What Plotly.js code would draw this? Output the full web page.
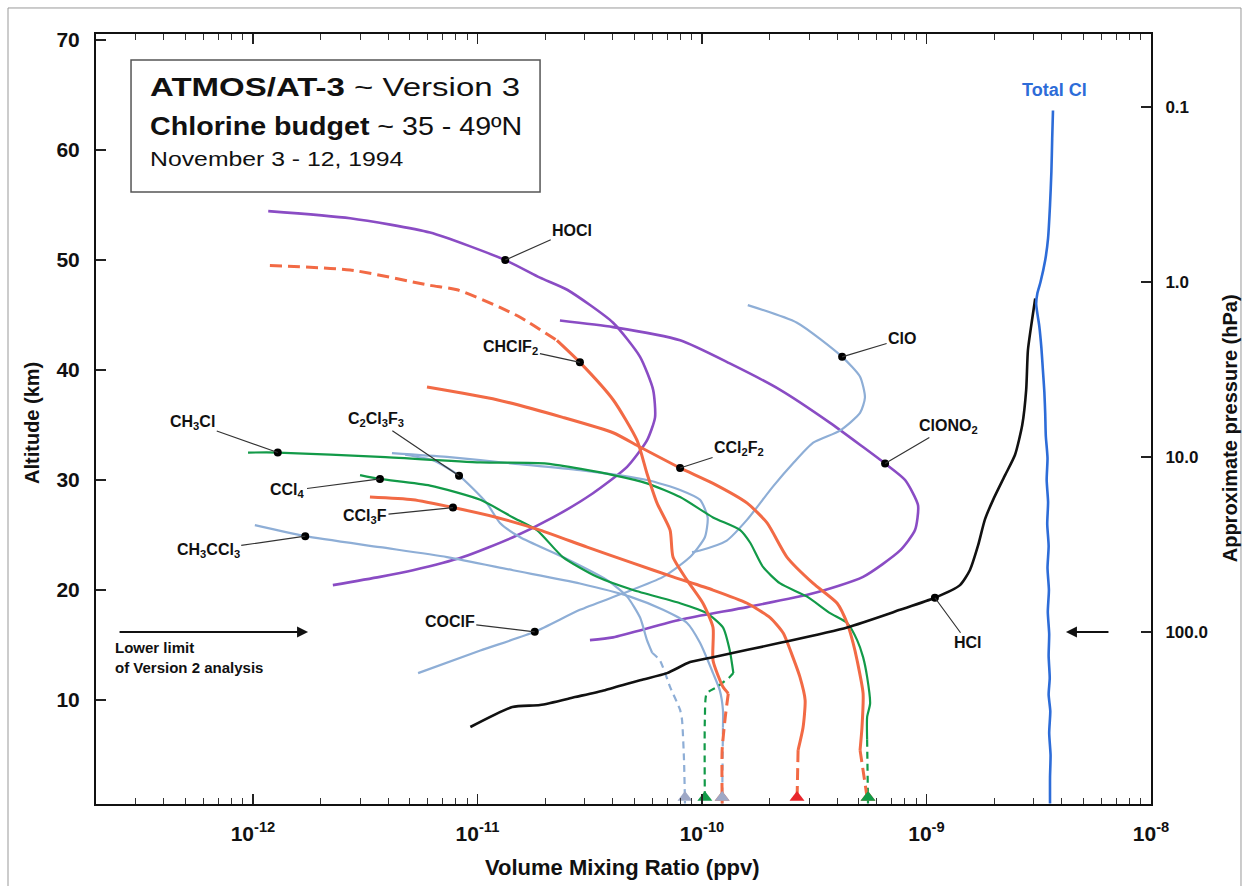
<!DOCTYPE html>
<html>
<head>
<meta charset="utf-8">
<script src="https://cdn.plot.ly/plotly-3.0.1.min.js"></script>
<style>html,body{margin:0;padding:0;background:#fff;}#chart{width:1248px;height:886px;}</style>
</head>
<body>
<div id="chart"></div>
<script>
// ---------------- DATA (VMR in ppv, altitude in km) ----------------
const totalClAlt = [0.6,3,5,7,9,10.5,12,14,16,18,20,22,24,26,28,30,32,34,36,38,40,42,44,46,47,48,50,52,55,58,61,63.6];
const totalClVmr = [3.55e-9,3.55e-9,3.57e-9,3.52e-9,3.56e-9,3.50e-9,3.54e-9,3.50e-9,3.52e-9,3.47e-9,3.51e-9,3.46e-9,3.50e-9,3.45e-9,3.48e-9,3.43e-9,3.46e-9,3.40e-9,3.38e-9,3.35e-9,3.30e-9,3.25e-9,3.18e-9,3.08e-9,3.12e-9,3.22e-9,3.38e-9,3.48e-9,3.55e-9,3.60e-9,3.63e-9,3.66e-9];

const hclAlt = [7.55,9.36,9.55,10.27,10.9,11.8,12.45,13.45,13.9,15.2,16.6,18.2,19.3,20.45,21.8,24.1,26.4,28.2,30.45,32.3,35,38.2,41.8,44.5,46.5];
const hclVmr = [9.3e-12,1.43e-11,1.90e-11,2.72e-11,3.70e-11,5.30e-11,6.99e-11,8.85e-11,1.12e-10,2.23e-10,4.43e-10,7.63e-10,1.09e-9,1.41e-9,1.56e-9,1.70e-9,1.82e-9,1.98e-9,2.24e-9,2.48e-9,2.67e-9,2.78e-9,2.83e-9,2.95e-9,3.05e-9];

const hoclAlt = [54.45,53.8,52.5,50,48.4,47.3,44.3,41.2,38.2,35.7,33.6,31.2,28.8,26.6,24.8,23,21.8,21.2,20.45];
const hoclVmr = [1.17e-12,2.71e-12,6.15e-12,1.33e-11,1.90e-11,2.51e-11,4.02e-11,5.30e-11,6.06e-11,6.18e-11,5.69e-11,4.64e-11,3.27e-11,2.17e-11,1.44e-11,8.62e-12,5.16e-12,3.68e-12,2.27e-12];

const clono2Alt = [44.5,43.9,42.7,40.6,38.2,35.2,33,31.5,30,27.7,25.45,23.6,21.2,19.7,18.45,17.3,15.7,15.45];
const clono2Vmr = [2.33e-11,4.02e-11,7.99e-11,1.33e-10,2.23e-10,3.72e-10,5.22e-10,6.54e-10,8.03e-10,9.17e-10,8.89e-10,7.63e-10,5.22e-10,3.13e-10,1.59e-10,7.99e-11,4.02e-11,3.17e-11];

const cloAlt = [45.9,44.3,41.2,39.4,37.5,36.1,34.5,33.4,31.5,29.4,26.4,24.5,23.6,23.45];
const cloVmr = [1.60e-10,2.65e-10,4.21e-10,5.06e-10,5.32e-10,5.06e-10,4.12e-10,3.13e-10,2.54e-10,2.07e-10,1.59e-10,1.29e-10,9.80e-11,9.03e-11];

const coclfAlt = [12.45,14.5,16.2,18.2,19.7,21.2,23,24.8,26.6,28.2,29.1,30,30.9,31.5,32.1,32.45];
const coclfVmr = [5.44e-12,1.03e-11,1.80e-11,2.86e-11,4.45e-11,6.71e-11,8.85e-11,1.03e-10,1.06e-10,9.80e-11,7.99e-11,5.69e-11,2.86e-11,1.44e-11,7.32e-12,4.16e-12];

const c2cl3f3Alt = [32.3,31.8,30.4,27.9,26.1,24.8,23,20.9,19.4,17.5,15.45,14.3];
const c2cl3f3Vmr = [4.76e-12,6.34e-12,8.28e-12,1.10e-11,1.26e-11,1.55e-11,2.40e-11,3.78e-11,4.64e-11,5.30e-11,5.69e-11,6.0e-11];
const c2cl3f3DashAlt = [14.3,13.6,11.2,9.1,8.2,4.5,0.6];
const c2cl3f3DashVmr = [6.0e-11,6.5e-11,7.21e-11,7.99e-11,8.15e-11,8.32e-11,8.4e-11];

const ch3ccl3Alt = [25.9,24.9,23.9,23,21.8,20.6,19.4,18.2,17,15.2,12.45,10.9,9.1,7.5];
const ch3ccl3Vmr = [1.02e-12,1.71e-12,3.68e-12,7.32e-12,1.44e-11,2.86e-11,4.78e-11,6.71e-11,8.58e-11,9.80e-11,1.12e-10,1.20e-10,1.24e-10,1.24e-10];
const ch3ccl3DashAlt = [7.5,0.6];
const ch3ccl3DashVmr = [1.24e-10,1.23e-10];

const chclf2TopAlt = [49.5,49.1,47.7,47.3,45.7,44.8,42.7];
const chclf2TopVmr = [1.19e-12,2.71e-12,6.15e-12,8.11e-12,1.26e-11,1.55e-11,2.26e-11];
const chclf2Alt = [42.7,40.7,37.3,33.6,30.6,27.9,25.45,23,20.9,18.8,16.6,13.6,11.2,10.6];
const chclf2Vmr = [2.26e-11,2.86e-11,4.02e-11,5.14e-11,5.69e-11,6.31e-11,7.21e-11,7.43e-11,8.58e-11,1.01e-10,1.12e-10,1.12e-10,1.24e-10,1.31e-10];
const chclf2DashAlt = [10.6,8.45,5.45,0.6];
const chclf2DashVmr = [1.31e-10,1.27e-10,1.23e-10,1.23e-10];

const ccl3fAlt = [28.45,28.2,27.5,26.6,25.45,23.9,22.45,21.2,20,18.8,17.5,16.1,13.9,12.1,10,7.5,5.45];
const ccl3fVmr = [3.32e-12,5.16e-12,7.78e-12,1.22e-11,1.90e-11,3.08e-11,4.93e-11,7.43e-11,1.12e-10,1.59e-10,2.01e-10,2.30e-10,2.54e-10,2.73e-10,2.88e-10,2.82e-10,2.68e-10];
const ccl3fDashAlt = [5.45,0.6];
const ccl3fDashVmr = [2.68e-10,2.65e-10];

const ccl2f2Alt = [38.45,37.3,35.7,34.3,33,31.1,29.7,27.9,26.1,23,20.6,18.8,17,15.2,13.6,10.6,7.5,5.45];
const ccl2f2Vmr = [5.96e-12,1.22e-11,2.40e-11,4.02e-11,5.30e-11,7.99e-11,1.12e-10,1.59e-10,1.95e-10,2.39e-10,3.13e-10,4.00e-10,4.43e-10,4.71e-10,4.91e-10,5.22e-10,5.16e-10,5.06e-10];
const ccl2f2DashAlt = [5.45,0.6];
const ccl2f2DashVmr = [5.06e-10,5.49e-10];

const ch3clAlt = [32.5,32.5,32.1,31.6,31.5,30.45,29.7,28.45,26.6,25.45,24.3,22.1,20.6,19.4,17.9,17,15.45,13.9,12.1,9.7,8.45,6.4];
const ch3clVmr = [9.51e-13,1.29e-12,3.68e-12,1.03e-11,2.04e-11,4.02e-11,5.69e-11,7.99e-11,1.12e-10,1.48e-10,1.64e-10,1.87e-10,2.23e-10,2.94e-10,3.72e-10,4.43e-10,4.91e-10,5.22e-10,5.44e-10,5.61e-10,5.44e-10,5.44e-10];
const ch3clDashAlt = [6.4,0.6];
const ch3clDashVmr = [5.44e-10,5.49e-10];

const ccl4Alt = [30.45,30.1,29.5,28.2,26.6,25.45,23,21.2,20,18.8,17.9,16.6,14.5,12.45];
const ccl4Vmr = [3.0e-12,3.68e-12,6.15e-12,1.03e-11,1.44e-11,1.84e-11,2.40e-11,3.41e-11,4.93e-11,7.99e-11,1.05e-10,1.24e-10,1.33e-10,1.38e-10];
const ccl4DashAlt = [12.45,12.1,11.2,10.6,8.2,0.6];
const ccl4DashVmr = [1.38e-10,1.33e-10,1.17e-10,1.05e-10,1.03e-10,1.03e-10];

// ground-level (tropospheric) markers
const groundVmr = [8.4e-11,1.03e-10,1.23e-10,1.23e-10,2.65e-10,5.49e-10,5.49e-10];
const groundAlt = [1.15,1.15,1.15,1.15,1.15,1.15,1.15];
const groundColor = ['#9ea8c6','#129a48','#f26a45','#9ea8c6','#e8262b','#f26a45','#129a48'];

// labelled points
const labelNames = ['HOCl','CHClF<sub>2</sub>','ClO','ClONO<sub>2</sub>','CCl<sub>2</sub>F<sub>2</sub>','CH<sub>3</sub>Cl','C<sub>2</sub>Cl<sub>3</sub>F<sub>3</sub>','CCl<sub>4</sub>','CCl<sub>3</sub>F','CH<sub>3</sub>CCl<sub>3</sub>','COClF','HCl'];
const labelVmr = [1.33e-11,2.86e-11,4.21e-10,6.54e-10,7.99e-11,1.29e-12,8.28e-12,3.68e-12,7.78e-12,1.71e-12,1.80e-11,1.09e-9];
const labelAlt = [50,40.7,41.2,31.5,31.1,32.5,30.4,30.1,27.5,24.9,16.2,19.3];
const labelDx = [67,-69,60,63,59,-85,-83,-92,-88,-97,-85,33];
const labelDy = [-30,-15,-18,-37,-19,-30,-56,12,9,14,-10,45];

// axis ticks
const pressTicks = [0.1,1,10,100];
const pressText = ['0.1','1.0','10.0','100.0'];
const vmrTicks = [1e-12,1e-11,1e-10,1e-9,1e-8];
const minorDecades = [1e-13,1e-12,1e-11,1e-10,1e-9];
const minorDigits = [2,3,4,5,6,7,8,9];
const altTicks = [10,20,30,40,50,60,70];

// ---------------- STYLE ----------------
const PURPLE='#8a4cc4', ORANGE='#f26a45', GREEN='#129a48', GRAY='#8eaed6', BLUE='#2d6cd8';
function line(x,y,color,width,dash){
  return {x:x,y:y,type:'scatter',mode:'lines',hoverinfo:'skip',
    line:{color:color,width:width,dash:dash||'solid',shape:'spline',smoothing:0.6}};
}
const traces = [
  line(hoclVmr,hoclAlt,PURPLE,2.6),
  line(clono2Vmr,clono2Alt,PURPLE,2.6),
  line(cloVmr,cloAlt,GRAY,2.2),
  line(coclfVmr,coclfAlt,GRAY,2.2),
  line(c2cl3f3Vmr,c2cl3f3Alt,GRAY,2.2),
  line(c2cl3f3DashVmr,c2cl3f3DashAlt,GRAY,2.2,'7px,5px'),
  line(ch3ccl3Vmr,ch3ccl3Alt,GRAY,2.2),
  line(ch3ccl3DashVmr,ch3ccl3DashAlt,GRAY,2.2,'7px,5px'),
  line(ch3clVmr,ch3clAlt,GREEN,2.2),
  line(ch3clDashVmr,ch3clDashAlt,GREEN,2.2,'7px,5px'),
  line(ccl4Vmr,ccl4Alt,GREEN,2.2),
  line(ccl4DashVmr,ccl4DashAlt,GREEN,2.2,'7px,5px'),
  line(chclf2TopVmr,chclf2TopAlt,ORANGE,3,'12px,6px'),
  line(chclf2Vmr,chclf2Alt,ORANGE,3),
  line(chclf2DashVmr,chclf2DashAlt,ORANGE,3,'12px,6px'),
  line(ccl3fVmr,ccl3fAlt,ORANGE,3),
  line(ccl3fDashVmr,ccl3fDashAlt,ORANGE,3,'12px,6px'),
  line(ccl2f2Vmr,ccl2f2Alt,ORANGE,3),
  line(ccl2f2DashVmr,ccl2f2DashAlt,ORANGE,3,'12px,6px'),
  line(hclVmr,hclAlt,'#111111',2.6),
  line(totalClVmr,totalClAlt,BLUE,2.6),
  {x:groundVmr,y:groundAlt,type:'scatter',mode:'markers',hoverinfo:'skip',cliponaxis:false,
   marker:{symbol:'triangle-up',size:13,color:groundColor,line:{width:0}}},
  {x:labelVmr,y:labelAlt,type:'scatter',mode:'markers',hoverinfo:'skip',cliponaxis:false,
   marker:{symbol:'circle',size:8,color:'#000'}},
  {x:[1e-9],y:[1],yaxis:'y2',type:'scatter',mode:'markers',hoverinfo:'skip',marker:{opacity:0}}
];

const FONT = 'Liberation Sans, Arial, Helvetica, sans-serif';
const annotations = labelNames.map((t,i)=>({
  x:Math.log10(labelVmr[i]), y:labelAlt[i], xref:'x', yref:'y',
  text:t, showarrow:true, arrowhead:0, arrowwidth:1.2, arrowcolor:'#333',
  ax:labelDx[i], ay:labelDy[i], standoff:0,
  font:{family:FONT,size:16,color:'#111',weight:'bold'}
}));
function note(x,y,text,size,opts){
  return Object.assign({xref:'paper',yref:'paper',x:x,y:y,xanchor:'center',yanchor:'middle',
    showarrow:false,text:text,font:{family:FONT,size:size,color:'#111'}},opts||{});
}
annotations.push(
 note(0.0493,0.931,'<b>ATMOS/AT-3</b> ~ Version 3',25,{xanchor:'left'}),
 note(0.0493,0.8805,'<b>Chlorine budget</b> ~ 35 - 49ºN',25,{xanchor:'left'}),
 note(0.0493,0.838,'November 3 - 12, 1994',21,{xanchor:'left'}),
 note(0.909,0.927,'<b>Total Cl</b>',18,{font:{family:FONT,size:18,color:BLUE}}),
 note(0.0161,0.19,'<b>Lower limit<br>of Version 2 analysis</b>',15,{xanchor:'left',align:'left'}),
 {xref:'paper',yref:'paper',x:0.201,y:0.2234,text:'',showarrow:true,arrowhead:2,arrowsize:1.1,arrowwidth:2,arrowcolor:'#111',ax:-190,ay:0,standoff:0},
 {xref:'paper',yref:'paper',x:0.9194,y:0.2234,text:'',showarrow:true,arrowhead:2,arrowsize:1.1,arrowwidth:2,arrowcolor:'#111',ax:44,ay:0,standoff:0},
 note(-0.0607,0.4948,'<b>Altitude (km)</b>',20,{textangle:-90}),
 note(1.0749,0.488,'<b>Approximate pressure (hPa)</b>',20,{textangle:-90}),
 note(0.4986,-0.0831,'<b>Volume Mixing Ratio (ppv)</b>',22)
);

const layout = {
  width:1248,height:886,
  margin:{l:96,r:97,t:34,b:82},
  paper_bgcolor:'#ffffff',plot_bgcolor:'#ffffff',
  showlegend:false,
  font:{family:FONT,size:16,color:'#111'},
  xaxis:{type:'log',range:[Math.log10(2e-13),-8],
    tickmode:'array',tickvals:vmrTicks,
    ticktext:vmrTicks.map(v=>'10<sup>'+Math.round(Math.log10(v))+'</sup>'),
    ticks:'inside',ticklen:10,tickwidth:1.2,tickcolor:'#222',ticklabelstandoff:10,
    minor:{ticks:'inside',ticklen:6,tickwidth:1,tickcolor:'#333',tickmode:'array',
      tickvals:minorDecades.flatMap(d=>minorDigits.map(m=>m*d)),showgrid:false},
    showline:true,linecolor:'#111',linewidth:2,mirror:'ticks',
    showgrid:false,zeroline:false,
    tickfont:{family:FONT,size:21,weight:'bold',color:'#111'}},
  yaxis:{range:[0.55,70.55],tickmode:'array',tickvals:altTicks,
    ticks:'inside',ticklen:10,tickwidth:1.2,tickcolor:'#222',ticklabelstandoff:10,
    showline:true,linecolor:'#111',linewidth:2,showgrid:false,zeroline:false,
    tickfont:{family:FONT,size:21,weight:'bold',color:'#111'}},
  yaxis2:{overlaying:'y',side:'right',type:'log',range:[2.983,-1.417],
    tickmode:'array',tickvals:pressTicks,ticktext:pressText,
    ticks:'inside',ticklen:10,tickwidth:1.2,tickcolor:'#222',ticklabelstandoff:9,
    showline:true,linecolor:'#111',linewidth:2,showgrid:false,zeroline:false,
    tickfont:{family:FONT,size:17,weight:'bold',color:'#111'}},
  shapes:[
    {type:'rect',xref:'paper',yref:'paper',x0:0.0332,x1:0.4209,y0:0.7948,y1:0.9662,
     line:{color:'#555',width:1.5},fillcolor:'rgba(0,0,0,0)'},
    {type:'rect',xref:'paper',yref:'paper',x0:-0.0834,x1:1.0853,y0:-0.12,y1:1.0338,
     line:{color:'#999',width:1},fillcolor:'rgba(0,0,0,0)',layer:'below'}
  ],
  annotations:annotations
};

// the header lettering of the original is horizontally expanded
const headerStretch = {'ATMOS':1.32,'Chlorine':1.145,'November':1.18};

Plotly.newPlot('chart',traces,layout,{displayModeBar:false,staticPlot:true}).then(function(gd){
  gd.querySelectorAll('text.annotation-text').forEach(function(t){
    const key = Object.keys(headerStretch).find(k=>t.textContent.indexOf(k)===0);
    if(!key) return;
    const b = t.getBBox();
    t.setAttribute('transform','translate('+b.x+',0) scale('+headerStretch[key]+',1) translate('+(-b.x)+',0)');
  });
});
</script>
</body>
</html>
